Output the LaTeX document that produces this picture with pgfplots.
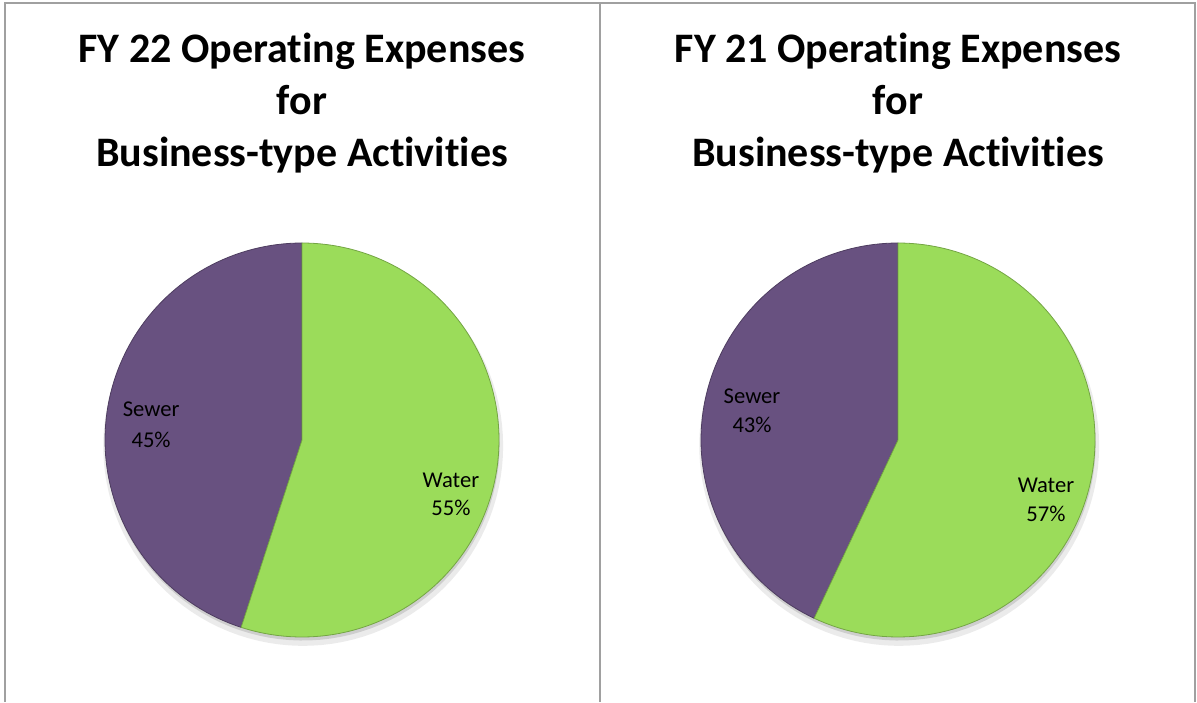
\documentclass[border=0pt]{standalone}
\usepackage{pgfplots}
\pgfplotsset{compat=1.18}
\usepackage{fontspec}
\setmainfont{Carlito}[Ligatures=NoCommon]

\definecolor{water}{RGB}{155,220,90}
\definecolor{sewer}{RGB}{104,81,128}
\definecolor{framegray}{RGB}{160,160,160}

% shares (percent)
\def\waterL{55}\def\sewerL{45}   % FY 22
\def\waterR{57}\def\sewerR{43}   % FY 21

\pgfplotsset{pieaxis/.style={hide axis, scale only axis, width=197pt, height=197pt,
    xmin=-1, xmax=1, ymin=-1, ymax=1, clip=false, anchor=center}}
\newcommand{\titlefont}{\fontsize{21}{26}\selectfont\bfseries}
\newcommand{\labfont}{\fontsize{11.3}{15}\selectfont}

\begin{document}
\begin{tikzpicture}
\path[use as bounding box] (0,0) rectangle (598.5pt,351pt);
% frame
\draw[framegray, line width=1pt] (2.5pt,0) -- (2.5pt,349.5pt) -- (597.5pt,349.5pt) -- (597.5pt,0);
\draw[framegray, line width=1pt] (300pt,0) -- (300pt,349.5pt);

% titles
\foreach \cx/\yr in {151pt/22, 449pt/21} {
  \node[anchor=base, font=\titlefont] at (\cx,319.5pt) {FY \yr\ Operating Expenses};
  \node[anchor=base, font=\titlefont] at (\cx,293.5pt) {for};
  \node[anchor=base, font=\titlefont] at (\cx,267.5pt) {Business-type Activities};
}

% FY 22
\begin{axis}[pieaxis, at={(151pt,131pt)}]
\addplot[draw=none, fill=black, fill opacity=0.08, domain=0:360, samples=120] ({0.006+1.015*cos(x)},{-0.03+1.015*sin(x)}) -- cycle;
\addplot[draw=none, fill=black, fill opacity=0.12, domain=0:360, samples=120] ({0.004+cos(x)},{-0.018+sin(x)}) -- cycle;
\addplot[draw=sewer!75!black, line width=0.4pt, fill=sewer, domain=90:{90+3.6*\sewerL}, samples=90] ({cos(x)},{sin(x)}) -- (0,0) -- cycle;
\addplot[draw=water!75!black, line width=0.4pt, fill=water, domain={90-3.6*\waterL}:90, samples=110] ({cos(x)},{sin(x)}) -- (0,0) -- cycle;
\node[anchor=base, font=\labfont] at (axis cs:-0.766,0.117) {Sewer};
\node[anchor=base, font=\labfont] at (axis cs:-0.766,-0.036) {\sewerL\%};
\node[anchor=base, font=\labfont] at (axis cs:0.756,-0.239) {Water};
\node[anchor=base, font=\labfont] at (axis cs:0.756,-0.381) {\waterL\%};
\end{axis}

% FY 21
\begin{axis}[pieaxis, at={(449pt,131pt)}]
\addplot[draw=none, fill=black, fill opacity=0.08, domain=0:360, samples=120] ({0.006+1.015*cos(x)},{-0.03+1.015*sin(x)}) -- cycle;
\addplot[draw=none, fill=black, fill opacity=0.12, domain=0:360, samples=120] ({0.004+cos(x)},{-0.018+sin(x)}) -- cycle;
\addplot[draw=sewer!75!black, line width=0.4pt, fill=sewer, domain=90:{90+3.6*\sewerR}, samples=90] ({cos(x)},{sin(x)}) -- (0,0) -- cycle;
\addplot[draw=water!75!black, line width=0.4pt, fill=water, domain={90-3.6*\waterR}:90, samples=110] ({cos(x)},{sin(x)}) -- (0,0) -- cycle;
\node[anchor=base, font=\labfont] at (axis cs:-0.741,0.183) {Sewer};
\node[anchor=base, font=\labfont] at (axis cs:-0.741,0.036) {\sewerR\%};
\node[anchor=base, font=\labfont] at (axis cs:0.751,-0.269) {Water};
\node[anchor=base, font=\labfont] at (axis cs:0.751,-0.416) {\waterR\%};
\end{axis}
\end{tikzpicture}
\end{document}
